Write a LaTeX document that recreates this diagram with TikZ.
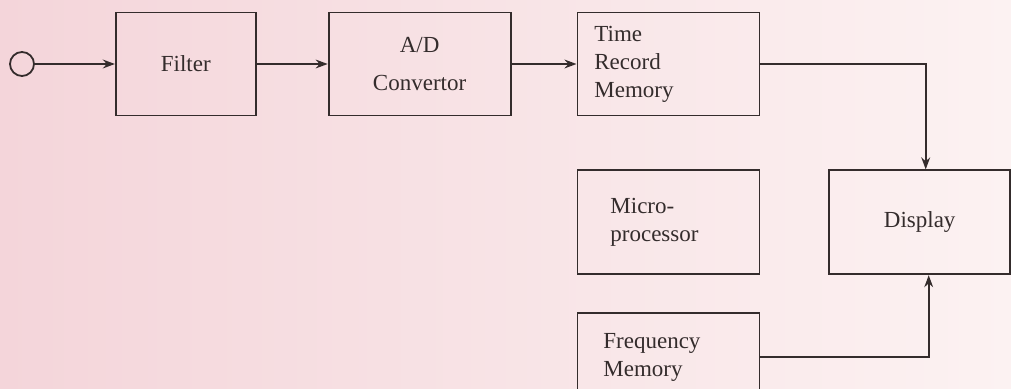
\documentclass[tikz,border=0pt]{standalone}
\usepackage{fontspec}
\setmainfont{Liberation Serif}
\usetikzlibrary{arrows.meta,positioning}

\definecolor{scanpink}{RGB}{244,213,218}
\definecolor{scanlight}{RGB}{252,242,242}
\definecolor{ink}{RGB}{52,44,44}

\begin{document}
\begin{tikzpicture}[
    font=\fontsize{11.5}{14}\selectfont,
    box/.style={draw=ink, line width=0.9pt, minimum height=52pt, align=center,
                inner sep=0pt, text=ink},
    lbox/.style={box, align=left},
    flow/.style={-{Stealth[length=6pt, width=4.4pt]}, draw=ink, line width=0.9pt},
    port/.style={circle, draw=ink, line width=0.9pt, minimum size=12pt, inner sep=0pt},
]

% =====================  PAGE  =====================
\clip (0,0) rectangle (505.5pt,-194.5pt);
\shade[left color=scanpink, right color=scanlight] (0,0) rectangle (505.5pt,-194.5pt);

% =====================  ACQUISITION CHAIN  =====================
\node[port] (input) at (11pt,-32pt) {};
\node[box,  minimum width=70pt,  minimum height=51.5pt, right=40pt of input] (filter) {Filter};
\node[box,  minimum width=91pt,  minimum height=51.5pt, right=35.5pt of filter] (ad) {A/D\\[5pt]Convertor};
\node[lbox, inner xsep=8.5pt, text width=74pt, minimum height=51.5pt, right=32.5pt of ad] (trm) {Time\\Record\\Memory};

\draw[flow] (input)  -- (filter);
\draw[flow] (filter) -- (ad);
\draw[flow] (ad)     -- (trm);

% =====================  PROCESSING  =====================
\node[lbox, inner xsep=16.5pt, text width=58pt, below=26.5pt of trm]    (micro)   {Micro-\\processor};
\node[box,  minimum width=90.5pt, right=34pt of micro]                  (display) {Display};
\node[lbox, inner xsep=13pt, text width=65pt, minimum height=44pt, below=18.5pt of micro] (freq) {Frequency\\Memory};

\draw[flow] (trm.east)  -| ([xshift=3pt]display.north);
\draw[flow] (freq.east) -| ([xshift=4.5pt]display.south);

\end{tikzpicture}
\end{document}
